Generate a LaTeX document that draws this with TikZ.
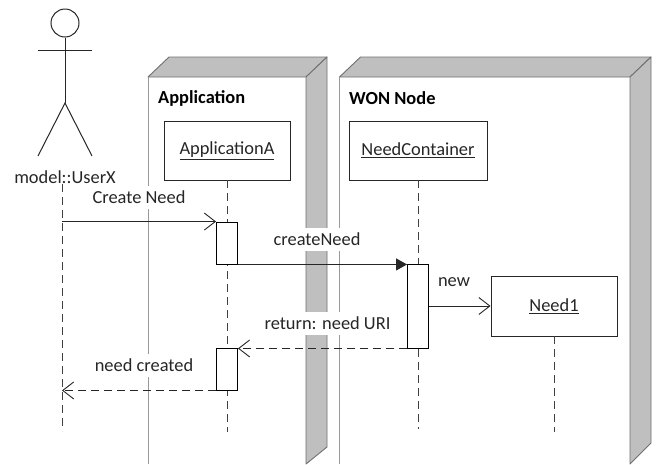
\documentclass[tikz,border=0pt]{standalone}
\usepackage{fontspec}
\setmainfont{Carlito}
\usepackage{xcolor}
\usetikzlibrary{arrows.meta,calc,positioning}
\definecolor{framegray}{HTML}{BFBFBF}
\definecolor{edgegray}{HTML}{707070}
\definecolor{inkgray}{HTML}{262626}
\tikzset{
    frameshade/.style={fill=framegray, draw=edgegray, line width=0.9pt, line join=round},
    frameleft/.style={draw=black!40, line width=1pt},
    objbox/.style={draw=inkgray, fill=white, line width=0.9pt, inner sep=0pt},
    actbox/.style={draw=black, fill=white, line width=0.9pt, inner sep=0pt, minimum width=21pt},
    lifeline/.style={draw=black!75, line width=1pt, dash pattern=on 8pt off 5pt},
    msgline/.style={draw=black!85, line width=1pt, -{Straight Barb[length=11pt,width=17pt,line width=0.9pt]}},
    callline/.style={draw=black!85, line width=1pt, -{Triangle[length=11pt,width=12pt]}},
    replyline/.style={msgline, dash pattern=on 8pt off 5pt},
    msglabel/.style={fill=white, inner xsep=1pt, inner ysep=0pt, minimum height=23pt, text=inkgray},
    titlelabel/.style={anchor=west, inner sep=0pt, font=\fontsize{18.4}{21}\selectfont\bfseries, text=black}
}
\begin{document}
\begin{tikzpicture}[x=1pt, y=-1pt, font=\fontsize{18.4}{21}\selectfont, text=inkgray]
    \useasboundingbox (0,0) rectangle (656,464);

    % Node frames: left x / front right x / bottom of the back edge
    \foreach \lx/\rx/\by in {148/306/447, 339.5/630/443} {
        \fill[white] (\lx,77) rectangle (\rx,464);
        \draw[frameshade] (\lx,77) -- (\lx+21,57) -- (\rx+21,57) -- (\rx,77) -- cycle;
        \draw[frameshade] (\rx,77) -- (\rx+21,57) -- (\rx+21,\by) -- (\rx,464) -- cycle;
        \draw[frameleft] (\lx,77) -- (\lx,464);
    }
    \node[titlelabel] (apptitle) at (158,98) {Application};
    \node[titlelabel] (wontitle) at (349,98) {WON Node};

    % Labels sit on white patches that cut the frames
    \node[msglabel] (createlabel) at (139,197.5) {Create Need};
    \node[msglabel] (calllabel) at (317,239) {createNeed};
    \node[msglabel] (returnlabel) at (327.5,323.5) {return: need URI};
    \node[msglabel] (donelabel) at (144,365.5) {need created};
    \node[inner sep=0pt] (newlabel) at (454,282) {new};

    % Actor
    \node[circle, draw=inkgray, line width=1pt, minimum size=28pt, inner sep=0pt] (head) at (65,23) {};
    \coordinate (hip) at (65,103);
    \draw[draw=inkgray, line width=1pt] (head) -- (hip);
    \draw[draw=inkgray, line width=1pt] (38,50) -- (92,50);
    \draw[draw=inkgray, line width=1pt] (38,156) -- (hip) -- (92,156);
    \node[inner sep=0pt] (userx) at (65,177) {model::UserX};

    % Objects
    \node[objbox, minimum width=126pt, minimum height=59pt] (appa) at (227,150.5) {\underline{ApplicationA}};
    \node[objbox, minimum width=138pt, minimum height=59pt] (container) at (418,150.5) {\underline{NeedContainer}};
    \node[objbox, minimum width=126pt, minimum height=60pt] (need) at (554,306) {\underline{Need1}};

    % Lifelines
    \coordinate (userend) at (62,431);
    \coordinate (append) at (227,432);
    \coordinate (contend) at (418,429);
    \coordinate (needend) at (554,432);
    \draw[lifeline] (62,184) -- (userend);
    \draw[lifeline] (appa.south) -- (append);
    \draw[lifeline] (container.south) -- (contend);
    \draw[lifeline] (need.south) -- (needend);

    % Activation bars
    \node[actbox, minimum height=42pt] (acta) at (227,243) {};
    \node[actbox, minimum height=84pt] (actc) at (418,306) {};
    \node[actbox, minimum height=42pt] (actb) at (227,369) {};

    % Messages
    \draw[msgline] (userend |- acta.north west) -- (acta.north west);
    \draw[callline] (acta.south east) -- (acta.south east -| actc.west);
    \draw[msgline] (actc.east) -- (need.west);
    \draw[replyline] (actc.south west) -- (actc.south west -| actb.east);
    \draw[replyline] (actb.south west) -- (userend |- actb.south west);
\end{tikzpicture}
\end{document}
